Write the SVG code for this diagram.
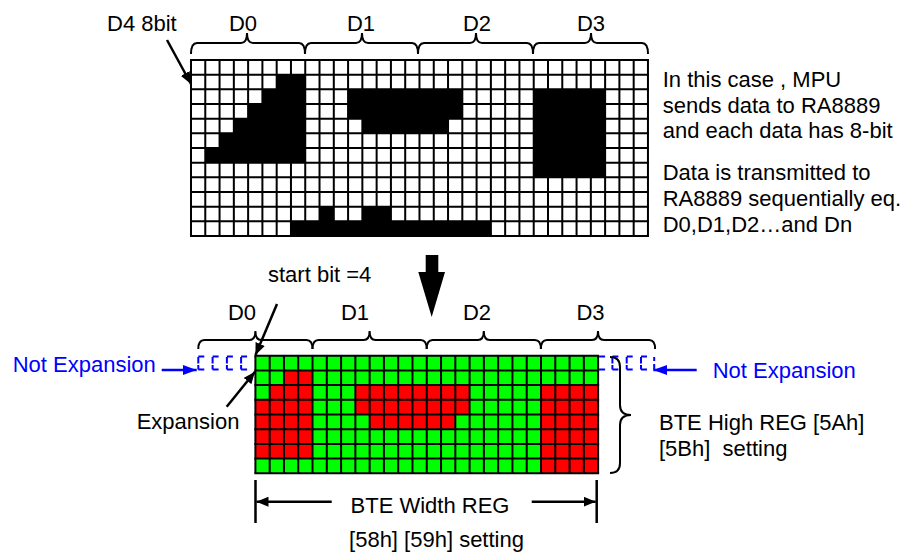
<svg xmlns="http://www.w3.org/2000/svg" width="912" height="557" viewBox="0 0 912 557">
<defs>
<style>
text{font-family:"Liberation Sans",Arial,sans-serif;font-size:22px;fill:#000;white-space:pre}
.blue{fill:#0000FF}
.gl{stroke:#000;stroke-width:2;fill:none}
.brace{stroke:#000;stroke-width:2;fill:none}
.blk{fill:#000}
.red{fill:#FF0000}
.grn{fill:#00FF00}
.dash{stroke:#0000FF;stroke-width:2;fill:none}
.ln{stroke:#000;stroke-width:2.5;fill:none}
.bln{stroke:#0000FF;stroke-width:2.5;fill:none}
</style>
<marker id="ah" viewBox="0 0 12 10" refX="12" refY="5" markerWidth="12" markerHeight="10" markerUnits="userSpaceOnUse" orient="auto"><path d="M0,0 L12,5 L0,10 Z" fill="#000"/></marker>
<marker id="bah" viewBox="0 0 14 10" refX="14" refY="5" markerWidth="14" markerHeight="10" markerUnits="userSpaceOnUse" orient="auto"><path d="M0,0 L14,5 L0,10 Z" fill="#0000FF"/></marker>
</defs>
<rect width="912" height="557" fill="#fff"/>

<g id="top-grid">
<rect x="191" y="60" width="456.96" height="176" fill="#fff"/>
<g class="blk">
<rect x="276.68" y="74.67" width="28.56" height="14.67"/>
<rect x="262.4" y="89.33" width="42.84" height="14.67"/>
<rect x="348.08" y="89.33" width="114.24" height="29.34"/>
<rect x="533.72" y="89.33" width="71.4" height="88.02"/>
<rect x="248.12" y="104" width="57.12" height="14.67"/>
<rect x="233.84" y="118.67" width="71.4" height="14.67"/>
<rect x="362.36" y="118.67" width="85.68" height="14.67"/>
<rect x="219.56" y="133.33" width="85.68" height="14.67"/>
<rect x="205.28" y="148" width="99.96" height="14.67"/>
<rect x="319.52" y="206.67" width="14.28" height="14.67"/>
<rect x="362.36" y="206.67" width="28.56" height="14.67"/>
<rect x="290.96" y="221.33" width="199.92" height="14.67"/>
</g>
<path class="gl" d="M191,60V236M205.28,60V236M219.56,60V236M233.84,60V236M248.12,60V236M262.4,60V236M276.68,60V236M290.96,60V236M305.24,60V236M319.52,60V236M333.8,60V236M348.08,60V236M362.36,60V236M376.64,60V236M390.92,60V236M405.2,60V236M419.48,60V236M433.76,60V236M448.04,60V236M462.32,60V236M476.6,60V236M490.88,60V236M505.16,60V236M519.44,60V236M533.72,60V236M548,60V236M562.28,60V236M576.56,60V236M590.84,60V236M605.12,60V236M619.4,60V236M633.68,60V236M647.96,60V236"/>
<path class="gl" d="M190,60H649M190,74.67H649M190,89.33H649M190,104H649M190,118.67H649M190,133.33H649M190,148H649M190,162.67H649M190,177.33H649M190,192H649M190,206.67H649M190,221.33H649M190,236H649"/>
</g>

<g id="top-braces">
<path class="brace" d="M191,54 Q191,43 197,43 L241,43 Q247,43 247,33 Q247,43 253,43 L299,43 Q305,43 305,54"/>
<path class="brace" d="M305,54 Q305,43 311,43 L356,43 Q362,43 362,33 Q362,43 368,43 L412,43 Q418,43 418,54"/>
<path class="brace" d="M418,54 Q418,43 424,43 L470,43 Q476,43 476,33 Q476,43 482,43 L527,43 Q533,43 533,54"/>
<path class="brace" d="M533,54 Q533,43 539,43 L585,43 Q591,43 591,33 Q591,43 597,43 L642,43 Q648,43 648,54"/>
</g>

<g id="top-labels">
<text x="107" y="31">D4 8bit</text>
<text x="243" y="31" text-anchor="middle">D0</text>
<text x="361" y="31" text-anchor="middle">D1</text>
<text x="477" y="31" text-anchor="middle">D2</text>
<text x="591" y="31" text-anchor="middle">D3</text>
</g>

<g id="desc">
<text x="662.7" y="87">In this case , MPU</text>
<text x="662.7" y="112.5">sends data to RA8889</text>
<text x="662.7" y="138">and each data has 8-bit</text>
<text x="662.7" y="180">Data is transmitted to</text>
<text x="662.7" y="205.5">RA8889 sequentially eq.</text>
<text x="662.7" y="231.5">D0,D1,D2…and Dn</text>
</g>

<g id="big-arrow">
<polygon class="blk" points="425.7,255 438.3,255 438.3,272 445,272 431.7,317 418.3,272 425.7,272"/>
</g>

<g id="bottom-grid">
<rect class="grn" x="255.4" y="355.7" width="342.72" height="117.6"/>
<g class="red">
<rect x="283.96" y="370.4" width="28.56" height="14.7"/>
<rect x="269.68" y="385.1" width="42.84" height="14.7"/>
<rect x="255.4" y="399.8" width="57.12" height="58.8"/>
<rect x="355.36" y="385.1" width="114.24" height="29.4"/>
<rect x="369.64" y="414.5" width="85.68" height="14.7"/>
<rect x="541" y="385.1" width="57.12" height="88.2"/>
</g>
<path class="gl" d="M255.4,355.7V473.3M269.68,355.7V473.3M283.96,355.7V473.3M298.24,355.7V473.3M312.52,355.7V473.3M326.8,355.7V473.3M341.08,355.7V473.3M355.36,355.7V473.3M369.64,355.7V473.3M383.92,355.7V473.3M398.2,355.7V473.3M412.48,355.7V473.3M426.76,355.7V473.3M441.04,355.7V473.3M455.32,355.7V473.3M469.6,355.7V473.3M483.88,355.7V473.3M498.16,355.7V473.3M512.44,355.7V473.3M526.72,355.7V473.3M541,355.7V473.3M555.28,355.7V473.3M569.56,355.7V473.3M583.84,355.7V473.3M598.12,355.7V473.3"/>
<path class="gl" d="M254.4,355.7H599.1M254.4,370.4H599.1M254.4,385.1H599.1M254.4,399.8H599.1M254.4,414.5H599.1M254.4,429.2H599.1M254.4,443.9H599.1M254.4,458.6H599.1M254.4,473.3H599.1"/>
</g>

<g id="not-expansion-cells-left">
<path class="dash" d="M198.3,356.5H204.3M212.6,356.5H218.6M226.9,356.5H232.9M241.1,356.5H247.1"/>
<path class="dash" d="M198.3,369.6H204.3M212.6,369.6H218.6M226.9,369.6H232.9M241.1,369.6H247.1"/>
<path class="dash" d="M198.3,357V363.5M198.3,365V369.5M212.6,357V363.5M212.6,365V369.5M226.9,357V363.5M226.9,365V369.5M241.1,357V363.5M241.1,365V369.5"/>
</g>
<g id="not-expansion-cells-right">
<path class="dash" d="M599.1,356.5H605.1M612.4,356.5H618.4M626.7,356.5H632.7M641,356.5H647"/>
<path class="dash" d="M599.1,369.6H605.1M612.4,369.6H618.4M626.7,369.6H632.7M641,369.6H647"/>
<path class="dash" d="M612.4,357V363.5M612.4,365V369.5M626.7,357V363.5M626.7,365V369.5M641,357V363.5M641,365V369.5M654.2,357V361M654.2,364V369.5"/>
</g>

<g id="bottom-braces">
<path class="brace" d="M198.3,349 Q198.3,340 204.3,340 L249.4,340 Q255.4,340 255.4,331 Q255.4,340 261.4,340 L306.5,340 Q312.5,340 312.5,349"/>
<path class="brace" d="M312.5,349 Q312.5,340 318.5,340 L363.6,340 Q369.6,340 369.6,331 Q369.6,340 375.6,340 L420.7,340 Q426.7,340 426.7,349"/>
<path class="brace" d="M426.7,349 Q426.7,340 432.7,340 L477.8,340 Q483.8,340 483.8,331 Q483.8,340 489.8,340 L534.9,340 Q540.9,340 540.9,349"/>
<path class="brace" d="M540.9,349 Q540.9,340 546.9,340 L592,340 Q598,340 598,331 Q598,340 604,340 L649.1,340 Q655.1,340 655.1,349"/>
<path class="brace" d="M610,357 Q620,357 620,367 L620,405 Q620,415 631,415 Q620,415 620,425 L620,463 Q620,473 610,473"/>
</g>

<g id="bottom-labels">
<text x="242" y="320" text-anchor="middle">D0</text>
<text x="355" y="320" text-anchor="middle">D1</text>
<text x="477" y="320" text-anchor="middle">D2</text>
<text x="590.5" y="320" text-anchor="middle">D3</text>
<text x="268" y="282">start bit =4</text>
<text class="blue" x="12.7" y="372">Not Expansion</text>
<text class="blue" x="712.7" y="378">Not Expansion</text>
<text x="136.7" y="429">Expansion</text>
<text x="659" y="429.5">BTE High REG [5Ah]</text>
<text x="659" y="456">[5Bh]  setting</text>
<text x="430" y="513" text-anchor="middle">BTE Width REG</text>
<text x="436.5" y="547" text-anchor="middle">[58h] [59h] setting</text>
</g>

<g id="connectors">
<line class="ln" x1="167" y1="40" x2="191" y2="84" marker-end="url(#ah)"/>
<line class="ln" x1="277" y1="304" x2="255.5" y2="355" marker-end="url(#ah)"/>
<line class="ln" x1="226.7" y1="406.7" x2="255" y2="371.7" marker-end="url(#ah)"/>
<line class="bln" x1="161.7" y1="370" x2="196.7" y2="370" marker-end="url(#bah)"/>
<line class="bln" x1="696.7" y1="370" x2="653.3" y2="370" marker-end="url(#bah)"/>
<line class="ln" x1="255.5" y1="480" x2="255.5" y2="523"/>
<line class="ln" x1="596.7" y1="480" x2="596.7" y2="523"/>
<line class="ln" x1="331.7" y1="501.7" x2="256.5" y2="501.7" marker-end="url(#ah)"/>
<line class="ln" x1="531.7" y1="501.7" x2="595.7" y2="501.7" marker-end="url(#ah)"/>
</g>
</svg>
